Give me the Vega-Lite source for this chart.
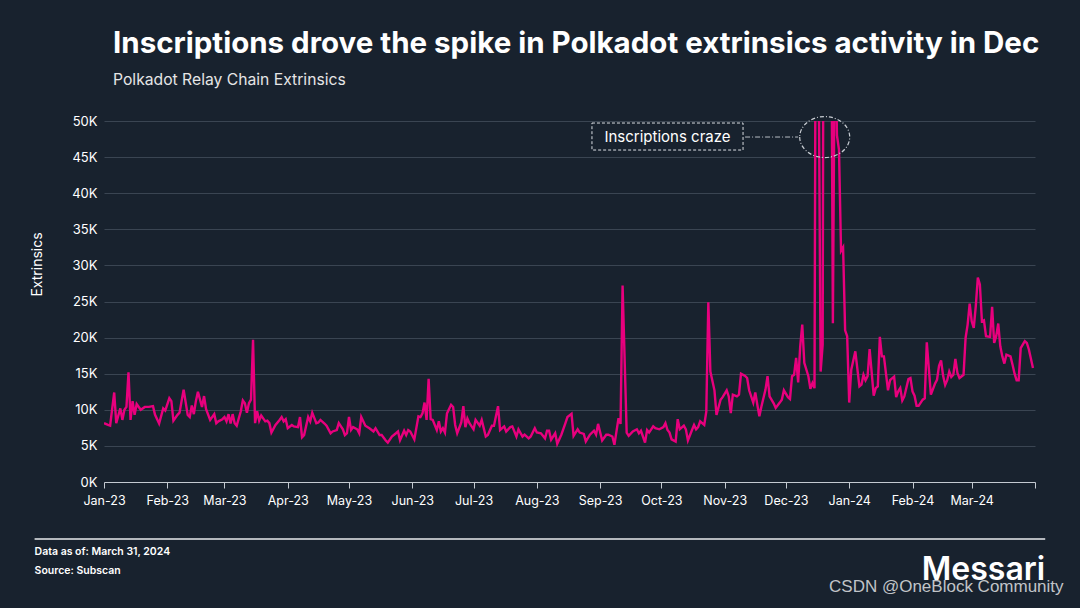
{
"$schema": "https://vega.github.io/schema/vega-lite/v6.json",
"width": 931,
"height": 361,
"autosize": {"type": "none"},
"padding": {"left": 104, "top": 121, "right": 45, "bottom": 126},
"background": "#18222e",
"title": {"text": "Inscriptions drove the spike in Polkadot extrinsics activity in Dec", "subtitle": "Polkadot Relay Chain Extrinsics", "anchor": "start", "frame": "group", "dx": 9, "offset": 25, "font": "Inter", "fontSize": 29.5, "fontWeight": "bold", "color": "#ffffff", "subtitleFont": "Inter", "subtitleFontSize": 15.7, "subtitleColor": "#e6e6e6", "subtitlePadding": 14},
"config": {"view": {"stroke": null}, "font": "Inter"},
"data": {"values": [
{"date":"2023-01-01","extrinsics":8150},{"date":"2023-01-03","extrinsics":7900},{"date":"2023-01-04","extrinsics":7800},{"date":"2023-01-06","extrinsics":12400},{"date":"2023-01-07","extrinsics":8150},{"date":"2023-01-09","extrinsics":10200},{"date":"2023-01-10","extrinsics":8600},{"date":"2023-01-11","extrinsics":10000},{"date":"2023-01-12","extrinsics":10400},{"date":"2023-01-13","extrinsics":15200},{"date":"2023-01-14","extrinsics":8600},{"date":"2023-01-15","extrinsics":11200},{"date":"2023-01-16","extrinsics":9300},{"date":"2023-01-17","extrinsics":10800},{"date":"2023-01-19","extrinsics":10000},{"date":"2023-01-21","extrinsics":10400},{"date":"2023-01-23","extrinsics":10400},{"date":"2023-01-25","extrinsics":10500},{"date":"2023-01-26","extrinsics":9300},{"date":"2023-01-28","extrinsics":8100},{"date":"2023-01-30","extrinsics":10200},{"date":"2023-01-31","extrinsics":9900},
{"date":"2023-02-02","extrinsics":11600},{"date":"2023-02-03","extrinsics":11200},{"date":"2023-02-04","extrinsics":8500},{"date":"2023-02-06","extrinsics":9300},{"date":"2023-02-07","extrinsics":9600},{"date":"2023-02-09","extrinsics":12800},{"date":"2023-02-11","extrinsics":9300},{"date":"2023-02-12","extrinsics":9000},{"date":"2023-02-13","extrinsics":10600},{"date":"2023-02-14","extrinsics":9400},{"date":"2023-02-15","extrinsics":11200},{"date":"2023-02-16","extrinsics":12500},{"date":"2023-02-18","extrinsics":10400},{"date":"2023-02-19","extrinsics":11900},{"date":"2023-02-20","extrinsics":10100},{"date":"2023-02-22","extrinsics":8600},{"date":"2023-02-24","extrinsics":9400},{"date":"2023-02-25","extrinsics":8150},{"date":"2023-02-26","extrinsics":8400},{"date":"2023-02-28","extrinsics":8700},
{"date":"2023-03-01","extrinsics":9000},{"date":"2023-03-02","extrinsics":8400},{"date":"2023-03-03","extrinsics":9400},{"date":"2023-03-04","extrinsics":8100},{"date":"2023-03-05","extrinsics":9400},{"date":"2023-03-06","extrinsics":8150},{"date":"2023-03-07","extrinsics":7800},{"date":"2023-03-09","extrinsics":9800},{"date":"2023-03-10","extrinsics":11300},{"date":"2023-03-11","extrinsics":10900},{"date":"2023-03-12","extrinsics":9600},{"date":"2023-03-13","extrinsics":10900},{"date":"2023-03-14","extrinsics":11400},{"date":"2023-03-15","extrinsics":19700},{"date":"2023-03-16","extrinsics":8150},{"date":"2023-03-17","extrinsics":9800},{"date":"2023-03-18","extrinsics":8500},{"date":"2023-03-19","extrinsics":9200},{"date":"2023-03-21","extrinsics":8400},{"date":"2023-03-22","extrinsics":8500},{"date":"2023-03-23","extrinsics":8150},{"date":"2023-03-24","extrinsics":6850},{"date":"2023-03-26","extrinsics":7900},{"date":"2023-03-28","extrinsics":8600},{"date":"2023-03-29","extrinsics":9000},{"date":"2023-03-30","extrinsics":8400},{"date":"2023-03-31","extrinsics":8700},
{"date":"2023-04-01","extrinsics":7450},{"date":"2023-04-03","extrinsics":7900},{"date":"2023-04-04","extrinsics":7700},{"date":"2023-04-06","extrinsics":7600},{"date":"2023-04-07","extrinsics":9000},{"date":"2023-04-08","extrinsics":6200},{"date":"2023-04-09","extrinsics":6500},{"date":"2023-04-11","extrinsics":9000},{"date":"2023-04-12","extrinsics":8400},{"date":"2023-04-13","extrinsics":9600},{"date":"2023-04-15","extrinsics":8150},{"date":"2023-04-16","extrinsics":8250},{"date":"2023-04-17","extrinsics":8600},{"date":"2023-04-19","extrinsics":8100},{"date":"2023-04-20","extrinsics":7800},{"date":"2023-04-22","extrinsics":6750},{"date":"2023-04-23","extrinsics":7000},{"date":"2023-04-25","extrinsics":7200},{"date":"2023-04-26","extrinsics":8150},{"date":"2023-04-28","extrinsics":7300},{"date":"2023-04-29","extrinsics":6500},{"date":"2023-04-30","extrinsics":6750},
{"date":"2023-05-01","extrinsics":9000},{"date":"2023-05-02","extrinsics":7200},{"date":"2023-05-03","extrinsics":7600},{"date":"2023-05-05","extrinsics":7300},{"date":"2023-05-06","extrinsics":6750},{"date":"2023-05-07","extrinsics":9000},{"date":"2023-05-09","extrinsics":7800},{"date":"2023-05-11","extrinsics":7450},{"date":"2023-05-13","extrinsics":7000},{"date":"2023-05-14","extrinsics":7450},{"date":"2023-05-16","extrinsics":6500},{"date":"2023-05-17","extrinsics":6500},{"date":"2023-05-19","extrinsics":5750},{"date":"2023-05-20","extrinsics":5450},{"date":"2023-05-22","extrinsics":6300},{"date":"2023-05-24","extrinsics":6750},{"date":"2023-05-25","extrinsics":7000},{"date":"2023-05-26","extrinsics":5800},{"date":"2023-05-28","extrinsics":7100},{"date":"2023-05-29","extrinsics":6500},{"date":"2023-05-30","extrinsics":7200},{"date":"2023-05-31","extrinsics":7000},
{"date":"2023-06-02","extrinsics":5900},{"date":"2023-06-04","extrinsics":9100},{"date":"2023-06-05","extrinsics":9000},{"date":"2023-06-06","extrinsics":9500},{"date":"2023-06-07","extrinsics":11000},{"date":"2023-06-08","extrinsics":8600},{"date":"2023-06-09","extrinsics":14300},{"date":"2023-06-10","extrinsics":8700},{"date":"2023-06-11","extrinsics":8600},{"date":"2023-06-13","extrinsics":7200},{"date":"2023-06-14","extrinsics":8400},{"date":"2023-06-15","extrinsics":7000},{"date":"2023-06-16","extrinsics":7450},{"date":"2023-06-17","extrinsics":6850},{"date":"2023-06-18","extrinsics":9500},{"date":"2023-06-20","extrinsics":10700},{"date":"2023-06-21","extrinsics":10400},{"date":"2023-06-22","extrinsics":7900},{"date":"2023-06-23","extrinsics":6750},{"date":"2023-06-25","extrinsics":8250},{"date":"2023-06-26","extrinsics":10500},{"date":"2023-06-27","extrinsics":7600},{"date":"2023-06-28","extrinsics":8800},{"date":"2023-06-29","extrinsics":8150},
{"date":"2023-07-01","extrinsics":7300},{"date":"2023-07-02","extrinsics":8600},{"date":"2023-07-04","extrinsics":7800},{"date":"2023-07-05","extrinsics":8600},{"date":"2023-07-07","extrinsics":6300},{"date":"2023-07-08","extrinsics":6500},{"date":"2023-07-10","extrinsics":7800},{"date":"2023-07-11","extrinsics":7800},{"date":"2023-07-13","extrinsics":10500},{"date":"2023-07-14","extrinsics":7200},{"date":"2023-07-16","extrinsics":7700},{"date":"2023-07-17","extrinsics":7000},{"date":"2023-07-19","extrinsics":7600},{"date":"2023-07-20","extrinsics":7700},{"date":"2023-07-22","extrinsics":6300},{"date":"2023-07-23","extrinsics":7300},{"date":"2023-07-25","extrinsics":6300},{"date":"2023-07-26","extrinsics":6550},{"date":"2023-07-28","extrinsics":6050},{"date":"2023-07-29","extrinsics":6300},{"date":"2023-07-31","extrinsics":7450},
{"date":"2023-08-01","extrinsics":6850},{"date":"2023-08-03","extrinsics":6750},{"date":"2023-08-05","extrinsics":6050},{"date":"2023-08-06","extrinsics":7100},{"date":"2023-08-07","extrinsics":7100},{"date":"2023-08-08","extrinsics":5850},{"date":"2023-08-10","extrinsics":6750},{"date":"2023-08-11","extrinsics":5300},{"date":"2023-08-13","extrinsics":6550},{"date":"2023-08-15","extrinsics":8150},{"date":"2023-08-16","extrinsics":9000},{"date":"2023-08-18","extrinsics":9450},{"date":"2023-08-19","extrinsics":6400},{"date":"2023-08-21","extrinsics":7300},{"date":"2023-08-22","extrinsics":6850},{"date":"2023-08-24","extrinsics":6650},{"date":"2023-08-25","extrinsics":5600},{"date":"2023-08-27","extrinsics":6550},{"date":"2023-08-29","extrinsics":7100},{"date":"2023-08-30","extrinsics":6550},{"date":"2023-08-31","extrinsics":8050},
{"date":"2023-09-02","extrinsics":5750},{"date":"2023-09-04","extrinsics":6550},{"date":"2023-09-05","extrinsics":6550},{"date":"2023-09-07","extrinsics":6300},{"date":"2023-09-08","extrinsics":5150},{"date":"2023-09-10","extrinsics":8850},{"date":"2023-09-11","extrinsics":8050},{"date":"2023-09-12","extrinsics":27200},{"date":"2023-09-14","extrinsics":6850},{"date":"2023-09-15","extrinsics":6400},{"date":"2023-09-17","extrinsics":7000},{"date":"2023-09-19","extrinsics":7300},{"date":"2023-09-20","extrinsics":6750},{"date":"2023-09-21","extrinsics":7100},{"date":"2023-09-23","extrinsics":5450},{"date":"2023-09-24","extrinsics":7200},{"date":"2023-09-25","extrinsics":6850},{"date":"2023-09-27","extrinsics":7700},{"date":"2023-09-28","extrinsics":7450},{"date":"2023-09-30","extrinsics":7300},
{"date":"2023-10-02","extrinsics":7600},{"date":"2023-10-03","extrinsics":8150},{"date":"2023-10-04","extrinsics":7200},{"date":"2023-10-05","extrinsics":6850},{"date":"2023-10-06","extrinsics":5900},{"date":"2023-10-08","extrinsics":5600},{"date":"2023-10-09","extrinsics":8700},{"date":"2023-10-10","extrinsics":7300},{"date":"2023-10-12","extrinsics":7800},{"date":"2023-10-13","extrinsics":7300},{"date":"2023-10-14","extrinsics":5750},{"date":"2023-10-16","extrinsics":7200},{"date":"2023-10-17","extrinsics":7900},{"date":"2023-10-18","extrinsics":7300},{"date":"2023-10-19","extrinsics":7600},{"date":"2023-10-20","extrinsics":8400},{"date":"2023-10-22","extrinsics":7900},{"date":"2023-10-23","extrinsics":9750},{"date":"2023-10-24","extrinsics":24900},{"date":"2023-10-25","extrinsics":15300},{"date":"2023-10-27","extrinsics":12700},{"date":"2023-10-28","extrinsics":9300},{"date":"2023-10-30","extrinsics":11400},{"date":"2023-10-31","extrinsics":11750},
{"date":"2023-11-02","extrinsics":12700},{"date":"2023-11-03","extrinsics":11850},{"date":"2023-11-04","extrinsics":9550},{"date":"2023-11-05","extrinsics":12100},{"date":"2023-11-07","extrinsics":11850},{"date":"2023-11-08","extrinsics":12100},{"date":"2023-11-09","extrinsics":15000},{"date":"2023-11-11","extrinsics":14700},{"date":"2023-11-12","extrinsics":14400},{"date":"2023-11-13","extrinsics":12700},{"date":"2023-11-15","extrinsics":11000},{"date":"2023-11-16","extrinsics":12400},{"date":"2023-11-17","extrinsics":10700},{"date":"2023-11-18","extrinsics":9100},{"date":"2023-11-19","extrinsics":10450},{"date":"2023-11-21","extrinsics":12800},{"date":"2023-11-22","extrinsics":14650},{"date":"2023-11-23","extrinsics":11850},{"date":"2023-11-25","extrinsics":10900},{"date":"2023-11-26","extrinsics":10250},{"date":"2023-11-28","extrinsics":11000},{"date":"2023-11-29","extrinsics":11400},{"date":"2023-11-30","extrinsics":12700},
{"date":"2023-12-02","extrinsics":11750},{"date":"2023-12-03","extrinsics":11500},{"date":"2023-12-04","extrinsics":14650},{"date":"2023-12-05","extrinsics":14850},{"date":"2023-12-06","extrinsics":17200},{"date":"2023-12-07","extrinsics":13800},{"date":"2023-12-08","extrinsics":18800},{"date":"2023-12-09","extrinsics":21800},{"date":"2023-12-10","extrinsics":16500},{"date":"2023-12-12","extrinsics":14650},{"date":"2023-12-13","extrinsics":12900},{"date":"2023-12-14","extrinsics":13700},{"date":"2023-12-15","extrinsics":13000},{"date":"2023-12-16","extrinsics":110000},{"date":"2023-12-17","extrinsics":60000},{"date":"2023-12-18","extrinsics":15300},{"date":"2023-12-19","extrinsics":19000},{"date":"2023-12-20","extrinsics":150000},{"date":"2023-12-21","extrinsics":120000},{"date":"2023-12-22","extrinsics":100000},{"date":"2023-12-23","extrinsics":80000},{"date":"2023-12-24","extrinsics":22000},{"date":"2023-12-25","extrinsics":65000},{"date":"2023-12-26","extrinsics":48000},{"date":"2023-12-27","extrinsics":46000},{"date":"2023-12-28","extrinsics":32000},{"date":"2023-12-29","extrinsics":32500},{"date":"2023-12-30","extrinsics":21000},{"date":"2023-12-31","extrinsics":20200},
{"date":"2024-01-01","extrinsics":11000},{"date":"2024-01-02","extrinsics":15550},{"date":"2024-01-04","extrinsics":18100},{"date":"2024-01-06","extrinsics":13250},{"date":"2024-01-07","extrinsics":13500},{"date":"2024-01-08","extrinsics":14850},{"date":"2024-01-09","extrinsics":14100},{"date":"2024-01-10","extrinsics":14650},{"date":"2024-01-11","extrinsics":18400},{"date":"2024-01-13","extrinsics":11950},{"date":"2024-01-14","extrinsics":13000},{"date":"2024-01-15","extrinsics":13250},{"date":"2024-01-16","extrinsics":20100},{"date":"2024-01-17","extrinsics":17400},{"date":"2024-01-18","extrinsics":17400},{"date":"2024-01-20","extrinsics":12700},{"date":"2024-01-21","extrinsics":14100},{"date":"2024-01-23","extrinsics":14600},{"date":"2024-01-24","extrinsics":11750},{"date":"2024-01-25","extrinsics":12550},{"date":"2024-01-26","extrinsics":13000},{"date":"2024-01-27","extrinsics":11300},{"date":"2024-01-28","extrinsics":11850},{"date":"2024-01-30","extrinsics":14250},{"date":"2024-01-31","extrinsics":14400},
{"date":"2024-02-01","extrinsics":12550},{"date":"2024-02-02","extrinsics":11950},{"date":"2024-02-03","extrinsics":10550},{"date":"2024-02-04","extrinsics":10550},{"date":"2024-02-06","extrinsics":11400},{"date":"2024-02-07","extrinsics":11600},{"date":"2024-02-08","extrinsics":19350},{"date":"2024-02-10","extrinsics":12100},{"date":"2024-02-12","extrinsics":13600},{"date":"2024-02-13","extrinsics":14150},{"date":"2024-02-14","extrinsics":16100},{"date":"2024-02-15","extrinsics":16850},{"date":"2024-02-16","extrinsics":14700},{"date":"2024-02-17","extrinsics":13450},{"date":"2024-02-18","extrinsics":14100},{"date":"2024-02-19","extrinsics":15300},{"date":"2024-02-20","extrinsics":14550},{"date":"2024-02-21","extrinsics":14850},{"date":"2024-02-22","extrinsics":17050},{"date":"2024-02-23","extrinsics":15100},{"date":"2024-02-24","extrinsics":14400},{"date":"2024-02-26","extrinsics":14850},{"date":"2024-02-27","extrinsics":19950},{"date":"2024-02-28","extrinsics":21800},{"date":"2024-02-29","extrinsics":24700},
{"date":"2024-03-01","extrinsics":22250},{"date":"2024-03-02","extrinsics":21350},{"date":"2024-03-03","extrinsics":24350},{"date":"2024-03-04","extrinsics":28300},{"date":"2024-03-05","extrinsics":27350},{"date":"2024-03-06","extrinsics":22250},{"date":"2024-03-07","extrinsics":22400},{"date":"2024-03-08","extrinsics":20200},{"date":"2024-03-10","extrinsics":20100},{"date":"2024-03-11","extrinsics":24250},{"date":"2024-03-12","extrinsics":19250},{"date":"2024-03-13","extrinsics":20200},{"date":"2024-03-14","extrinsics":21950},{"date":"2024-03-15","extrinsics":18800},{"date":"2024-03-16","extrinsics":17400},{"date":"2024-03-17","extrinsics":16400},{"date":"2024-03-18","extrinsics":17650},{"date":"2024-03-20","extrinsics":17400},{"date":"2024-03-21","extrinsics":16250},{"date":"2024-03-22","extrinsics":15000},{"date":"2024-03-23","extrinsics":14100},{"date":"2024-03-24","extrinsics":14100},{"date":"2024-03-25","extrinsics":18550},{"date":"2024-03-27","extrinsics":19500},{"date":"2024-03-28","extrinsics":19250},{"date":"2024-03-29","extrinsics":18350},{"date":"2024-03-31","extrinsics":15800}
]},
"layer": [
{
"mark": {"type": "line", "clip": true, "color": "#e8007d", "strokeWidth": 2.4},
"encoding": {
"x": {"field": "date", "type": "temporal",
 "scale": {"type": "utc", "domain": [{"year": 2023, "month": 1, "date": 1, "utc": true}, {"year": 2024, "month": 4, "date": 1, "utc": true}]},
 "axis": {"title": null, "grid": false, "labelOverlap": false,
  "values": [{"year":2023,"month":1,"date":1,"utc":true},{"year":2023,"month":2,"date":1,"utc":true},{"year":2023,"month":3,"date":1,"utc":true},{"year":2023,"month":4,"date":1,"utc":true},{"year":2023,"month":5,"date":1,"utc":true},{"year":2023,"month":6,"date":1,"utc":true},{"year":2023,"month":7,"date":1,"utc":true},{"year":2023,"month":8,"date":1,"utc":true},{"year":2023,"month":9,"date":1,"utc":true},{"year":2023,"month":10,"date":1,"utc":true},{"year":2023,"month":11,"date":1,"utc":true},{"year":2023,"month":12,"date":1,"utc":true},{"year":2024,"month":1,"date":1,"utc":true},{"year":2024,"month":2,"date":1,"utc":true},{"year":2024,"month":3,"date":1,"utc":true},{"year":2024,"month":4,"date":1,"utc":true}],
  "labelExpr": "(utcyear(datum.value) == 2024 && utcmonth(datum.value) == 3) ? '' : utcFormat(datum.value, '%b-%y')",
  "labelColor": "#ffffff", "labelFontSize": 12.5, "labelPadding": 6, "labelFlush": false,
  "tickColor": "#c4cad1", "tickSize": 6, "tickWidth": 1,
  "domainColor": "#c4cad1", "domainWidth": 1}},
"y": {"field": "extrinsics", "type": "quantitative",
 "scale": {"domain": [0, 50000], "nice": false},
 "axis": {"tickCount": 10, "labelOverlap": false,
  "labelExpr": "(datum.value / 1000) + 'K'",
  "grid": true, "gridColor": "#3a4552", "gridWidth": 1,
  "domain": false, "ticks": false,
  "labelColor": "#ffffff", "labelFontSize": 13, "labelPadding": 7,
  "title": "Extrinsics", "titleColor": "#ffffff", "titleFontSize": 14, "titleFontWeight": "normal",
  "titleX": -60, "titleY": 143}}
}
},
{
"data": {"values": [{}]},
"mark": {"type": "rect", "fill": null, "fillOpacity": 0, "stroke": "#d9dde2", "strokeWidth": 1, "strokeDash": [3, 2]},
"encoding": {
"x": {"datum": {"year": 2023, "month": 8, "date": 28, "utc": true}, "type": "temporal"},
"x2": {"datum": {"year": 2023, "month": 11, "date": 10, "utc": true}},
"y": {"datum": 49720, "type": "quantitative"},
"y2": {"datum": 45980}
}
},
{
"data": {"values": [{}]},
"mark": {"type": "text", "text": "Inscriptions craze", "color": "#ffffff", "fontSize": 15, "font": "Inter", "align": "center", "baseline": "middle"},
"encoding": {
"x": {"datum": {"year": 2023, "month": 10, "date": 4, "utc": true}, "type": "temporal"},
"y": {"datum": 47850, "type": "quantitative"}
}
},
{
"data": {"values": [{}]},
"mark": {"type": "rule", "stroke": "#b8bec6", "strokeWidth": 1, "strokeDash": [5, 2, 1, 2]},
"encoding": {
"x": {"datum": {"year": 2023, "month": 11, "date": 11, "utc": true}, "type": "temporal"},
"x2": {"datum": {"year": 2023, "month": 12, "date": 7, "utc": true}},
"y": {"datum": 47780, "type": "quantitative"}
}
},
{
"data": {"values": [{}]},
"mark": {"type": "point", "shape": "M-1,0A1,0.82,0,1,0,1,0A1,0.82,0,1,0,-1,0Z", "size": 2500, "filled": false, "stroke": "#c8cdd3", "strokeWidth": 1.2, "strokeDash": [4, 2, 1, 2], "opacity": 1},
"encoding": {
"x": {"datum": {"year": 2023, "month": 12, "date": 20, "utc": true}, "type": "temporal"},
"y": {"datum": 47780, "type": "quantitative"}
}
},
{
"data": {"values": [{}]},
"mark": {"type": "rule", "stroke": "#e8ebee", "strokeWidth": 1.5, "clip": false},
"encoding": {
"x": {"datum": {"year": 2022, "month": 11, "date": 28, "utc": true}, "type": "temporal"},
"x2": {"datum": {"year": 2024, "month": 4, "date": 6, "utc": true}},
"y": {"datum": -7900, "type": "quantitative"}
}
},
{
"data": {"values": [{}]},
"mark": {"type": "text", "text": "Data as of: March 31, 2024", "color": "#ffffff", "fontSize": 10.5, "fontWeight": 600, "font": "Inter", "align": "left", "baseline": "middle"},
"encoding": {
"x": {"datum": {"year": 2022, "month": 11, "date": 28, "utc": true}, "type": "temporal"},
"y": {"datum": -9700, "type": "quantitative"}
}
},
{
"data": {"values": [{}]},
"mark": {"type": "text", "text": "Source: Subscan", "color": "#ffffff", "fontSize": 10.5, "fontWeight": 600, "font": "Inter", "align": "left", "baseline": "middle"},
"encoding": {
"x": {"datum": {"year": 2022, "month": 11, "date": 28, "utc": true}, "type": "temporal"},
"y": {"datum": -12330, "type": "quantitative"}
}
},
{
"data": {"values": [{}]},
"mark": {"type": "text", "text": "Messari", "color": "#ffffff", "fontSize": 32, "fontWeight": 600, "font": "Inter", "align": "right", "baseline": "middle"},
"encoding": {
"x": {"datum": {"year": 2024, "month": 4, "date": 6, "utc": true}, "type": "temporal"},
"y": {"datum": -12190, "type": "quantitative"}
}
},
{
"data": {"values": [{}]},
"mark": {"type": "text", "text": "CSDN @OneBlock Community", "color": "#d4d6d9", "opacity": 0.9, "fontSize": 17, "font": "Liberation Sans", "align": "right", "baseline": "middle"},
"encoding": {
"x": {"datum": {"year": 2024, "month": 4, "date": 15, "utc": true}, "type": "temporal"},
"y": {"datum": -14540, "type": "quantitative"}
}
}
]
}
